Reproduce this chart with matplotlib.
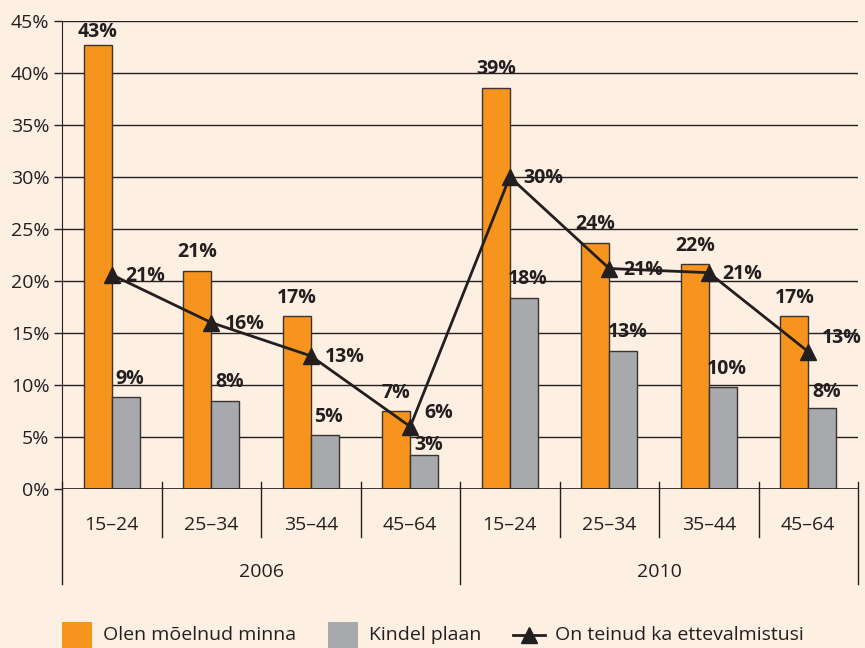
import matplotlib.pyplot as plt
from matplotlib.patches import Rectangle
from matplotlib.lines import Line2D

years = ['2006', '2010']
age_groups = ['15–24', '25–34', '35–44', '45–64']
thought = [42.7, 21.0, 16.6, 7.5, 38.6, 23.7, 21.6, 16.6]
thought_labels = ['43%', '21%', '17%', '7%', '39%', '24%', '22%', '17%']
plan = [8.8, 8.5, 5.2, 3.3, 18.4, 13.3, 9.8, 7.8]
plan_labels = ['9%', '8%', '5%', '3%', '18%', '13%', '10%', '8%']
prepared = [20.6, 16.0, 12.8, 6.0, 30.0, 21.2, 20.8, 13.2]
prepared_labels = ['21%', '16%', '13%', '6%', '30%', '21%', '21%', '13%']
y_ticks = [0, 5, 10, 15, 20, 25, 30, 35, 40, 45]
legend_names = ['Olen mõelnud minna', 'Kindel plaan', 'On teinud ka ettevalmistusi']

bg = '#FDF0E2'
orange = '#F7941E'
grey = '#A7A9AC'
ink = '#231F20'
fs = 14

plt.rcParams['font.family'] = ['Open Sans', 'DejaVu Sans']

fig = plt.figure(figsize=(8.65, 6.48), dpi=100, facecolor=bg)
ax = fig.add_axes([62 / 865, 1 - 489 / 648, 796 / 865, 468 / 648])
ax.set_facecolor(bg)

cats = age_groups * len(years)
x = list(range(len(cats)))
w = 0.28

ax.set_ylim(0, 45)
ax.set_xlim(-0.5, len(cats) - 0.5)
ax.set_yticks(y_ticks)
ax.set_yticklabels([f'{v}%' for v in y_ticks], fontsize=fs, color=ink)
ax.yaxis.grid(True, color=ink, linewidth=1)
ax.set_axisbelow(True)
ax.tick_params(axis='y', length=6, width=1, color=ink, pad=3)
ax.set_xticks([])
for s in ['top', 'right', 'bottom']:
    ax.spines[s].set_visible(False)
ax.spines['left'].set_color(ink)
ax.axhline(0, color=ink, linewidth=1.2, zorder=4)

ax.bar([i - w / 2 for i in x], thought, w, color=orange, edgecolor='#3a3333', linewidth=1, zorder=3)
ax.bar([i + w / 2 for i in x], plan, w, color=grey, edgecolor='#3a3333', linewidth=1, zorder=3)
ax.plot(x, prepared, color=ink, linewidth=2, marker='^', markersize=11, zorder=5, clip_on=False)

# a few labels are nudged in the original to avoid collisions
thought_dy = {0: 2}
plan_dy = {3: 0, 7: 4}
line_dy = {3: 10, 7: 10}

for i in x:
    ax.annotate(thought_labels[i], (i - w / 2, thought[i]), xytext=(0, thought_dy.get(i, 6)),
                textcoords='offset points', ha='center', va='bottom', fontsize=fs,
                fontweight='bold', color=ink, annotation_clip=False)
    ax.annotate(plan_labels[i], (i + w / 2, plan[i]), xytext=(3, plan_dy.get(i, 6)),
                textcoords='offset points', ha='center', va='bottom', fontsize=fs,
                fontweight='bold', color=ink, annotation_clip=False)
    ax.annotate(prepared_labels[i], (i, prepared[i]), xytext=(10, line_dy.get(i, -1)),
                textcoords='offset points', ha='left', va='center', fontsize=fs,
                fontweight='bold', color=ink, zorder=6, annotation_clip=False)

# category axis with two levels
tr = ax.get_xaxis_transform()
for k in range(len(cats) + 1):
    xb = k - 0.5
    bottom = -0.203 if k % len(age_groups) == 0 else -0.103
    ax.plot([xb, xb], [0.015, bottom], color=ink, linewidth=1, transform=tr, clip_on=False)
for i, c in enumerate(cats):
    ax.text(i, -0.077, c, transform=tr, ha='center', va='center', fontsize=fs, color=ink)
for j, yr in enumerate(years):
    mid = j * len(age_groups) + (len(age_groups) - 1) / 2
    ax.text(mid, -0.177, yr, transform=tr, ha='center', va='center', fontsize=fs, color=ink)

# legend drawn along the bottom edge
W, H = 865, 648
ty = 1 - 635 / H
fig.add_artist(Rectangle((62 / W, 0), 30 / W, 26 / H, transform=fig.transFigure,
                         facecolor=orange, edgecolor='none'))
fig.text(103 / W, ty, legend_names[0], fontsize=fs, color=ink, va='center')
fig.add_artist(Rectangle((328 / W, 0), 30 / W, 26 / H, transform=fig.transFigure,
                         facecolor=grey, edgecolor='none'))
fig.text(369 / W, ty, legend_names[1], fontsize=fs, color=ink, va='center')
fig.add_artist(Line2D([513 / W, 545 / W], [ty, ty], transform=fig.transFigure,
                      color=ink, linewidth=2))
fig.add_artist(Line2D([529 / W], [ty], transform=fig.transFigure, color=ink,
                      marker='^', markersize=11, linestyle='none'))
fig.text(555 / W, ty, legend_names[2], fontsize=fs, color=ink, va='center')

fig.savefig('out.png', dpi=100, facecolor=bg)
